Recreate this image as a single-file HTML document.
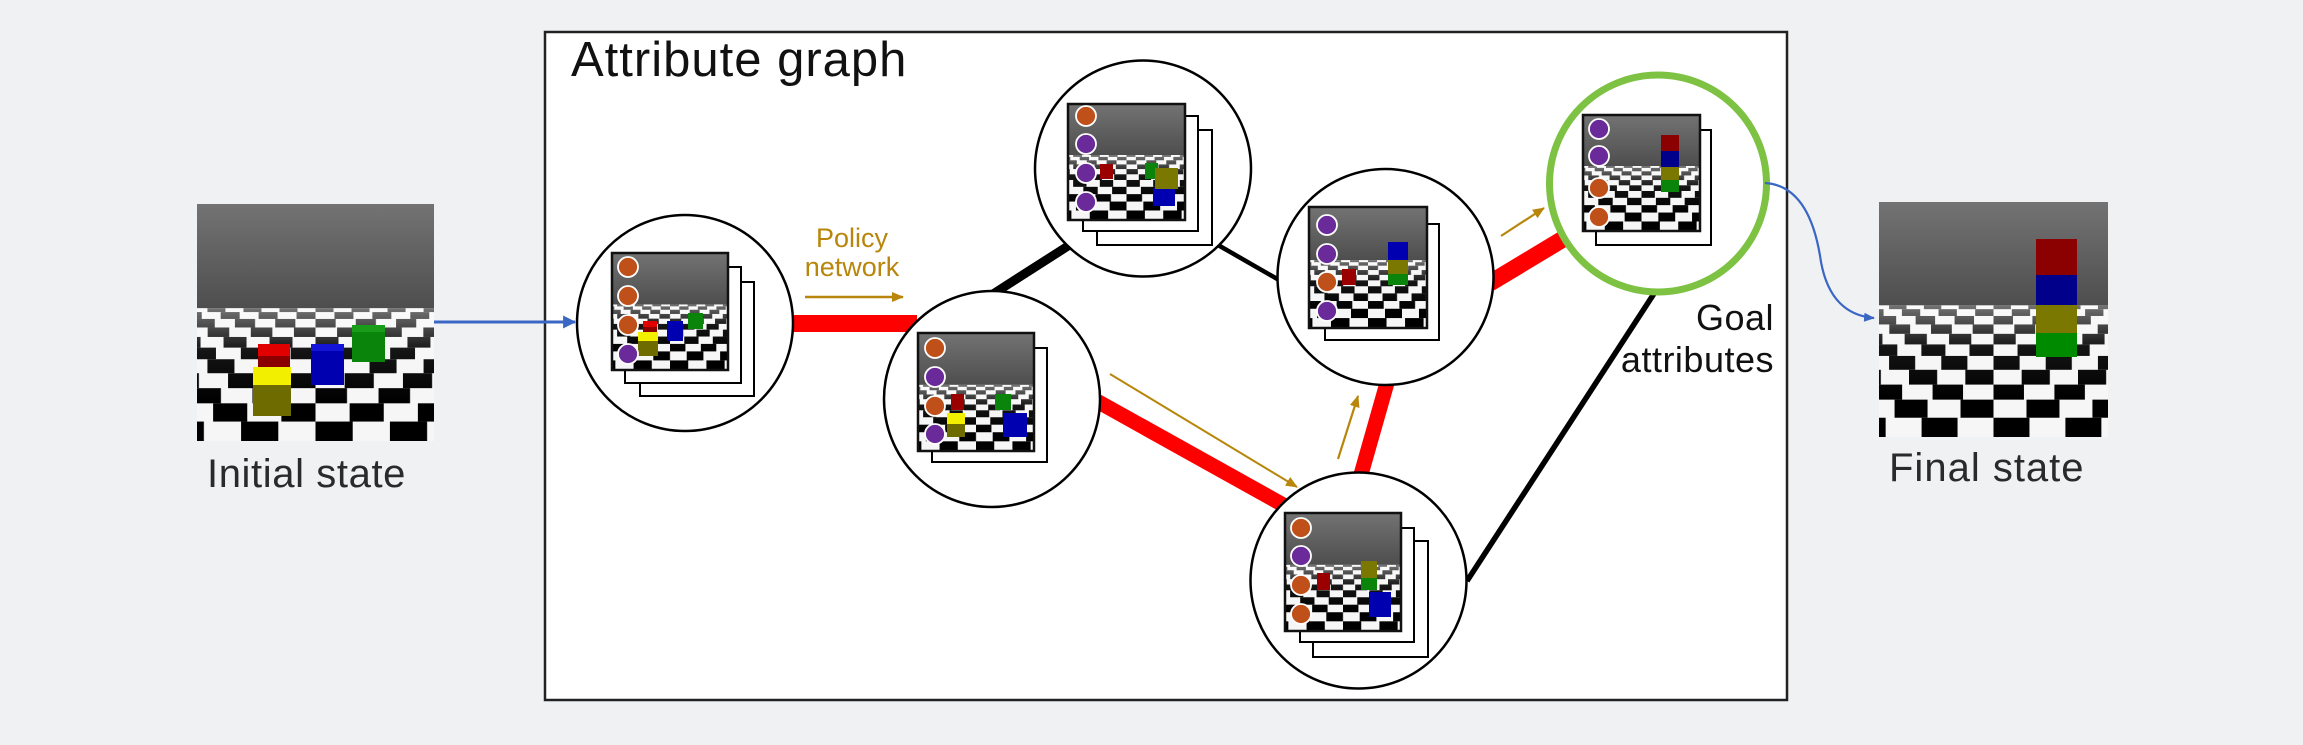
<!DOCTYPE html>
<html>
<head>
<meta charset="utf-8">
<style>
  html,body{margin:0;padding:0;background:#f0f1f3;}
  body{width:2303px;height:745px;overflow:hidden;}
  svg{display:block;}
  text{font-family:"Liberation Sans",Arial,sans-serif;}
</style>
</head>
<body>
<svg width="2303" height="745" viewBox="0 0 2303 745" xmlns="http://www.w3.org/2000/svg">
  <defs>
    <linearGradient id="sky" x1="0" y1="0" x2="0" y2="1">
      <stop offset="0" stop-color="#737373"/>
      <stop offset="1" stop-color="#4e4e4e"/>
    </linearGradient>
    <linearGradient id="glare" x1="0" y1="0" x2="0" y2="1">
      <stop offset="0" stop-color="#ffffff" stop-opacity="0.45"/>
      <stop offset="0.45" stop-color="#ffffff" stop-opacity="0.08"/>
      <stop offset="1" stop-color="#ffffff" stop-opacity="0"/>
    </linearGradient>
    <pattern id="p1" patternUnits="userSpaceOnUse" x="50" y="0" width="15.2" height="200"><rect width="7.6" height="200" fill="#000"/></pattern>
    <pattern id="p2" patternUnits="userSpaceOnUse" x="42" y="0" width="16" height="200"><rect width="8" height="200" fill="#000"/></pattern>
    <pattern id="p3" patternUnits="userSpaceOnUse" x="50" y="0" width="17" height="200"><rect width="8.5" height="200" fill="#000"/></pattern>
    <pattern id="p4" patternUnits="userSpaceOnUse" x="40.9" y="0" width="18.2" height="200"><rect width="9.1" height="200" fill="#000"/></pattern>
    <pattern id="p5" patternUnits="userSpaceOnUse" x="50" y="0" width="19.4" height="200"><rect width="9.7" height="200" fill="#000"/></pattern>
    <pattern id="p6" patternUnits="userSpaceOnUse" x="39.5" y="0" width="21" height="200"><rect width="10.5" height="200" fill="#000"/></pattern>
    <pattern id="p7" patternUnits="userSpaceOnUse" x="50" y="0" width="22.8" height="200"><rect width="11.4" height="200" fill="#000"/></pattern>
    <pattern id="p8" patternUnits="userSpaceOnUse" x="37.7" y="0" width="24.6" height="200"><rect width="12.3" height="200" fill="#000"/></pattern>
    <pattern id="p9" patternUnits="userSpaceOnUse" x="50" y="0" width="26.6" height="200"><rect width="13.3" height="200" fill="#000"/></pattern>
    <pattern id="p10" patternUnits="userSpaceOnUse" x="35.6" y="0" width="28.8" height="200"><rect width="14.4" height="200" fill="#000"/></pattern>
    <pattern id="p11" patternUnits="userSpaceOnUse" x="50" y="0" width="31.4" height="200"><rect width="15.7" height="200" fill="#000"/></pattern>

    <symbol id="scene" viewBox="0 0 100 100" preserveAspectRatio="none">
      <rect x="0" y="0" width="100" height="44" fill="url(#sky)"/>
      <rect x="0" y="44" width="100" height="56" fill="#f6f6f6"/>
      <rect x="0" y="44" width="100" height="1.6" fill="url(#p1)"/>
      <rect x="0" y="45.6" width="100" height="2.9" fill="url(#p2)"/>
      <rect x="0" y="48.5" width="100" height="3.6" fill="url(#p3)"/>
      <rect x="0" y="52.1" width="100" height="4" fill="url(#p4)"/>
      <rect x="0" y="56.1" width="100" height="4.5" fill="url(#p5)"/>
      <rect x="0" y="60.6" width="100" height="4.9" fill="url(#p6)"/>
      <rect x="0" y="65.5" width="100" height="5.9" fill="url(#p7)"/>
      <rect x="0" y="71.4" width="100" height="6.3" fill="url(#p8)"/>
      <rect x="0" y="77.7" width="100" height="6.4" fill="url(#p9)"/>
      <rect x="0" y="84.1" width="100" height="7.7" fill="url(#p10)"/>
      <rect x="0" y="91.8" width="100" height="8.2" fill="url(#p11)"/>
      <rect x="0" y="44" width="100" height="40" fill="url(#glare)"/>
    </symbol>

    <marker id="goldHead" viewBox="0 0 12 10" refX="11" refY="5" markerWidth="12" markerHeight="10" markerUnits="userSpaceOnUse" orient="auto">
      <path d="M0,0 L12,5 L0,10 Z" fill="#b8860b"/>
    </marker>
    <marker id="blueHead" viewBox="0 0 12 12" refX="11" refY="6" markerWidth="13" markerHeight="14" markerUnits="userSpaceOnUse" orient="auto">
      <path d="M0,0 L12,6 L0,12 Z" fill="#3a66c4"/>
    </marker>
    <marker id="blueHeadS" viewBox="0 0 12 10" refX="11" refY="5" markerWidth="11" markerHeight="9" markerUnits="userSpaceOnUse" orient="auto">
      <path d="M0,0 L12,5 L0,10 Z" fill="#3a66c4"/>
    </marker>
  </defs>

  <!-- background -->
  <rect x="0" y="0" width="2303" height="745" fill="#f0f1f3"/>

  <!-- ===== Initial state image ===== -->
  <use href="#scene" x="197" y="204" width="237" height="237"/>
  <rect x="352" y="325" width="33" height="37" fill="#0b840b"/>
  <rect x="352" y="325" width="33" height="7" fill="#1a9e1a"/>
  <rect x="311" y="344" width="33" height="41" fill="#0000b0"/>
  <rect x="311" y="344" width="33" height="7" fill="#1414d8"/>
  <rect x="258" y="344" width="32" height="12" fill="#e00000"/>
  <rect x="258" y="356" width="32" height="11" fill="#8a0000"/>
  <rect x="253" y="367" width="38" height="18" fill="#f2f000"/>
  <rect x="253" y="385" width="38" height="31" fill="#6e6c00"/>
  <text x="207" y="487" font-size="40" fill="#2a2a2a" letter-spacing="0.6">Initial state</text>

  <!-- ===== Attribute graph box ===== -->
  <rect x="545" y="32" width="1242" height="668" fill="#ffffff" stroke="#222" stroke-width="2.5"/>
  <text x="571" y="76" font-size="49" fill="#111" letter-spacing="1">Attribute graph</text>

  <!-- blue arrow into graph -->
  <line x1="434" y1="322" x2="575" y2="322" stroke="#3a66c4" stroke-width="3" marker-end="url(#blueHead)"/>

  <!-- connectors -->
  <line x1="788" y1="323.5" x2="917" y2="323.5" stroke="#ff0000" stroke-width="17"/>
  <line x1="1095" y1="400" x2="1287" y2="507" stroke="#ff0000" stroke-width="15"/>
  <line x1="1360" y1="478" x2="1387" y2="383" stroke="#ff0000" stroke-width="15"/>
  <line x1="1490" y1="283" x2="1563" y2="239" stroke="#ff0000" stroke-width="17"/>
  <line x1="993" y1="294" x2="1068" y2="246" stroke="#000" stroke-width="9"/>
  <line x1="1218" y1="245" x2="1279" y2="280" stroke="#000" stroke-width="4.5"/>
  <line x1="1467" y1="581" x2="1657" y2="289" stroke="#000" stroke-width="5.5"/>

  <!-- gold policy arrows -->
  <line x1="805" y1="297" x2="903" y2="297" stroke="#b8860b" stroke-width="2.6" marker-end="url(#goldHead)"/>
  <line x1="1110" y1="374" x2="1297" y2="487" stroke="#b8860b" stroke-width="2" marker-end="url(#goldHead)"/>
  <line x1="1338" y1="459" x2="1358" y2="396" stroke="#b8860b" stroke-width="2.2" marker-end="url(#goldHead)"/>
  <line x1="1501" y1="236" x2="1544" y2="208" stroke="#b8860b" stroke-width="2.2" marker-end="url(#goldHead)"/>
  <text x="852" y="247" font-size="27" fill="#b8860b" text-anchor="middle">Policy</text>
  <text x="852" y="276" font-size="27" fill="#b8860b" text-anchor="middle">network</text>

  <!-- ===== Node 1 ===== -->
  <circle cx="685" cy="323" r="108" fill="#fff" stroke="#000" stroke-width="2.5"/>
  <rect x="640" y="282" width="114" height="114" fill="#fff" stroke="#000" stroke-width="2"/>
  <rect x="625" y="267" width="116" height="116" fill="#fff" stroke="#000" stroke-width="2"/>
  <use href="#scene" x="612" y="253" width="116" height="117"/>
  <rect x="688" y="313" width="15" height="16" fill="#0b840b"/>
  <rect x="667" y="321" width="16" height="20" fill="#0000b0"/>
  <rect x="643" y="321" width="14" height="6" fill="#e00000"/>
  <rect x="643" y="327" width="14" height="5" fill="#8a0000"/>
  <rect x="638" y="332" width="20" height="9" fill="#f2f000"/>
  <rect x="638" y="341" width="20" height="15" fill="#6e6c00"/>
  <rect x="612" y="253" width="116" height="117" fill="none" stroke="#111" stroke-width="2.5"/>
  <g stroke="#fff" stroke-width="1.8">
    <circle cx="628" cy="267" r="10" fill="#c0501a"/>
    <circle cx="628" cy="296" r="10" fill="#c0501a"/>
    <circle cx="628" cy="325" r="10" fill="#c0501a"/>
    <circle cx="628" cy="354" r="10" fill="#6a2a9a"/>
  </g>

  <!-- ===== Node 2 ===== -->
  <circle cx="992" cy="399" r="108" fill="#fff" stroke="#000" stroke-width="2.5"/>
  <rect x="932" y="348" width="115" height="114" fill="#fff" stroke="#000" stroke-width="2"/>
  <use href="#scene" x="918" y="333" width="116" height="118"/>
  <rect x="951" y="394" width="13" height="16" fill="#9a0000"/>
  <rect x="995" y="394" width="16" height="16" fill="#0b840b"/>
  <rect x="947" y="413" width="18" height="11" fill="#f2f000"/>
  <rect x="947" y="424" width="18" height="13" fill="#6e6c00"/>
  <rect x="1003" y="413" width="24" height="24" fill="#0000b0"/>
  <rect x="918" y="333" width="116" height="118" fill="none" stroke="#111" stroke-width="2.5"/>
  <g stroke="#fff" stroke-width="1.8">
    <circle cx="935" cy="348" r="10" fill="#c0501a"/>
    <circle cx="935" cy="377" r="10" fill="#6a2a9a"/>
    <circle cx="935" cy="406" r="10" fill="#c0501a"/>
    <circle cx="935" cy="434" r="10" fill="#6a2a9a"/>
  </g>

  <!-- ===== Node 3 (top) ===== -->
  <circle cx="1143" cy="168.5" r="108" fill="#fff" stroke="#000" stroke-width="2.5"/>
  <rect x="1097" y="130" width="115" height="115" fill="#fff" stroke="#000" stroke-width="2"/>
  <rect x="1083" y="116" width="115" height="115" fill="#fff" stroke="#000" stroke-width="2"/>
  <use href="#scene" x="1068" y="104" width="117" height="116"/>
  <rect x="1100" y="164" width="13" height="15" fill="#9a0000"/>
  <rect x="1145" y="163" width="13" height="16" fill="#0b840b"/>
  <rect x="1153" y="188" width="22" height="18" fill="#0000b0"/>
  <rect x="1155" y="168" width="23" height="21" fill="#7a7800"/>
  <rect x="1068" y="104" width="117" height="116" fill="none" stroke="#111" stroke-width="2.5"/>
  <g stroke="#fff" stroke-width="1.8">
    <circle cx="1086" cy="116" r="10" fill="#c0501a"/>
    <circle cx="1086" cy="144" r="10" fill="#6a2a9a"/>
    <circle cx="1086" cy="173" r="10" fill="#6a2a9a"/>
    <circle cx="1086" cy="202" r="10" fill="#6a2a9a"/>
  </g>

  <!-- ===== Node 4 ===== -->
  <circle cx="1385.5" cy="277" r="108" fill="#fff" stroke="#000" stroke-width="2.5"/>
  <rect x="1325" y="224" width="114" height="116" fill="#fff" stroke="#000" stroke-width="2"/>
  <use href="#scene" x="1309" y="207" width="118" height="121"/>
  <rect x="1342" y="269" width="14" height="16" fill="#9a0000"/>
  <rect x="1388" y="242" width="20" height="18" fill="#0000b0"/>
  <rect x="1388" y="260" width="20" height="14" fill="#7a7800"/>
  <rect x="1388" y="274" width="20" height="11" fill="#0b840b"/>
  <rect x="1309" y="207" width="118" height="121" fill="none" stroke="#111" stroke-width="2.5"/>
  <g stroke="#fff" stroke-width="1.8">
    <circle cx="1327" cy="225" r="10" fill="#6a2a9a"/>
    <circle cx="1327" cy="254" r="10" fill="#6a2a9a"/>
    <circle cx="1327" cy="282" r="10" fill="#c0501a"/>
    <circle cx="1327" cy="311" r="10" fill="#6a2a9a"/>
  </g>

  <!-- ===== Node 5 (bottom) ===== -->
  <circle cx="1358.5" cy="580.5" r="108" fill="#fff" stroke="#000" stroke-width="2.5"/>
  <rect x="1313" y="541" width="115" height="116" fill="#fff" stroke="#000" stroke-width="2"/>
  <rect x="1300" y="528" width="114" height="114" fill="#fff" stroke="#000" stroke-width="2"/>
  <use href="#scene" x="1285" y="513" width="116" height="118"/>
  <rect x="1317" y="573" width="13" height="17" fill="#9a0000"/>
  <rect x="1361" y="561" width="16" height="17" fill="#7a7800"/>
  <rect x="1361" y="578" width="16" height="12" fill="#0b840b"/>
  <rect x="1369" y="592" width="22" height="25" fill="#0000b0"/>
  <rect x="1285" y="513" width="116" height="118" fill="none" stroke="#111" stroke-width="2.5"/>
  <g stroke="#fff" stroke-width="1.8">
    <circle cx="1301" cy="528" r="10" fill="#c0501a"/>
    <circle cx="1301" cy="556" r="10" fill="#6a2a9a"/>
    <circle cx="1301" cy="585" r="10" fill="#c0501a"/>
    <circle cx="1301" cy="614" r="10" fill="#c0501a"/>
  </g>

  <!-- ===== Goal node ===== -->
  <circle cx="1658" cy="183.5" r="108.5" fill="#fff" stroke="#7dc243" stroke-width="7"/>
  <rect x="1596" y="130" width="115" height="115" fill="#fff" stroke="#000" stroke-width="2"/>
  <use href="#scene" x="1583" y="115" width="117" height="116"/>
  <rect x="1661" y="135" width="18" height="16" fill="#8b0000"/>
  <rect x="1661" y="151" width="18" height="16" fill="#00008b"/>
  <rect x="1661" y="167" width="18" height="13" fill="#7a7800"/>
  <rect x="1661" y="180" width="18" height="12" fill="#0b840b"/>
  <rect x="1583" y="115" width="117" height="116" fill="none" stroke="#111" stroke-width="2.5"/>
  <g stroke="#fff" stroke-width="1.8">
    <circle cx="1599" cy="129" r="10" fill="#6a2a9a"/>
    <circle cx="1599" cy="156" r="10" fill="#6a2a9a"/>
    <circle cx="1599" cy="188" r="10" fill="#c0501a"/>
    <circle cx="1599" cy="217" r="10" fill="#c0501a"/>
  </g>
  <text x="1774" y="330" font-size="36" fill="#111" text-anchor="end" letter-spacing="0.5">Goal</text>
  <text x="1774" y="372" font-size="36" fill="#111" text-anchor="end" letter-spacing="0.5">attributes</text>

  <!-- blue curve to final state -->
  <path d="M1765,183 C1800,185 1815,220 1821,262 C1828,300 1848,316 1874,318" fill="none" stroke="#3a66c4" stroke-width="2.2" marker-end="url(#blueHeadS)"/>

  <!-- ===== Final state image ===== -->
  <use href="#scene" x="1879" y="202" width="229" height="235"/>
  <rect x="2036" y="239" width="41" height="36" fill="#8b0000"/>
  <rect x="2036" y="275" width="41" height="30" fill="#00008b"/>
  <rect x="2036" y="305" width="41" height="28" fill="#7a7800"/>
  <rect x="2036" y="333" width="41" height="24" fill="#008a00"/>
  <text x="1889" y="481" font-size="40" fill="#2a2a2a" letter-spacing="1">Final state</text>
</svg>
</body>
</html>
